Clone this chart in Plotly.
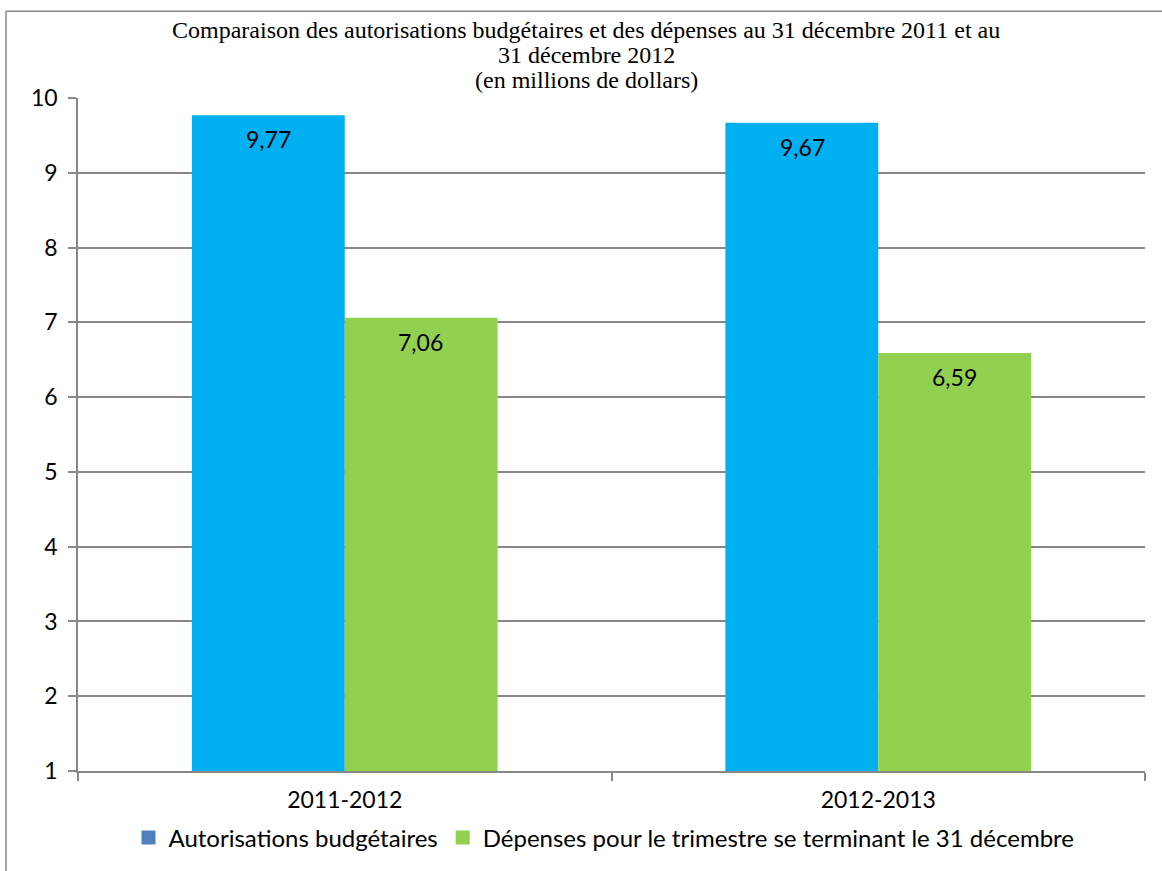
import plotly.graph_objects as go

categories = ["2011-2012", "2012-2013"]
series_names = ["Autorisations budgétaires",
                "Dépenses pour le trimestre se terminant le 31 décembre"]
autorisations = [9.77, 9.67]
depenses = [7.06, 6.59]
bar_colors = ["#00B0F0", "#92D050"]
legend_colors = ["#4F81BD", "#92D050"]
y_ticks = list(range(1, 11))
title_lines = ["Comparaison des autorisations budgétaires et des dépenses au 31 décembre 2011 et au",
               "31 décembre 2012",
               "(en millions de dollars)"]

W, H = 1162, 871
L, R, T, B = 78, 17, 98, 99
pw, ph = W - L - R, H - T - B
FONT = "Lato"

def px_x(x):
    return (x - L) / pw

def px_y(y):
    return (H - B - y) / ph

fig = go.Figure()
for name, vals, col in zip(series_names, [autorisations, depenses], bar_colors):
    fig.add_trace(go.Bar(x=categories, y=[v - 1 for v in vals], base=1,
                         marker_color=col, marker_line_width=0,
                         showlegend=False, name=name, hoverinfo="skip"))
for name, col in zip(series_names, legend_colors):
    fig.add_trace(go.Scatter(x=[None], y=[None], name=name, mode="markers",
                             marker=dict(symbol="square", size=14, color=col)))

annotations = []
for vals, shift in zip([autorisations, depenses], [-76, 76]):
    for c, v in zip(categories, vals):
        annotations.append(dict(x=c, y=v, xref="x", yref="y", xshift=shift, yshift=-24,
                                text=f"{v:.2f}".replace(".", ","), showarrow=False,
                                font=dict(family=FONT, size=23, color="black")))

for line, ypix in zip(title_lines, [30, 55, 80]):
    annotations.append(dict(
        x=px_x(586), y=px_y(ypix), xref="paper", yref="paper", text=line,
        showarrow=False, xanchor="center", yanchor="middle",
        font=dict(family="Liberation Serif", size=24, color="black")))

shapes = [
    dict(type="line", xref="paper", yref="paper", x0=px_x(6), x1=px_x(W + 5),
         y0=px_y(11), y1=px_y(11), line=dict(color="#888888", width=1.5)),
    dict(type="line", xref="paper", yref="paper", x0=px_x(6), x1=px_x(6),
         y0=px_y(11), y1=px_y(H + 5), line=dict(color="#888888", width=1.5)),
]

fig.update_layout(
    width=W, height=H,
    margin=dict(l=L, r=R, t=T, b=B, pad=0),
    paper_bgcolor="white", plot_bgcolor="white",
    barmode="group", bargap=0.427, bargroupgap=0,
    annotations=annotations, shapes=shapes,
    font=dict(family=FONT, size=23, color="black"),
    legend=dict(orientation="h", x=px_x(604), y=px_y(838), xanchor="center",
                yanchor="middle", font=dict(family=FONT, size=24),
                traceorder="normal", bgcolor="rgba(0,0,0,0)"),
    xaxis=dict(type="category", showline=True, linecolor="#888888", linewidth=1.5,
               ticks="outside", tickson="boundaries", ticklen=8, tickcolor="#888888",
               tickwidth=1.5, showgrid=False, tickfont=dict(family=FONT, size=23),
               ticklabelstandoff=8, range=[-0.5, 1.5], fixedrange=True),
    yaxis=dict(range=[1, 10], tickvals=y_ticks, showline=True, linecolor="#888888",
               linewidth=1.5, ticks="outside", ticklen=8, tickcolor="#888888",
               tickwidth=1.5, showgrid=True, gridcolor="#888888", gridwidth=1.5,
               zeroline=False, tickfont=dict(family=FONT, size=23),
               ticklabelstandoff=6, fixedrange=True),
)

fig.write_html("out.html", config={"displayModeBar": False},
               post_script="document.body.style.margin='0';")
